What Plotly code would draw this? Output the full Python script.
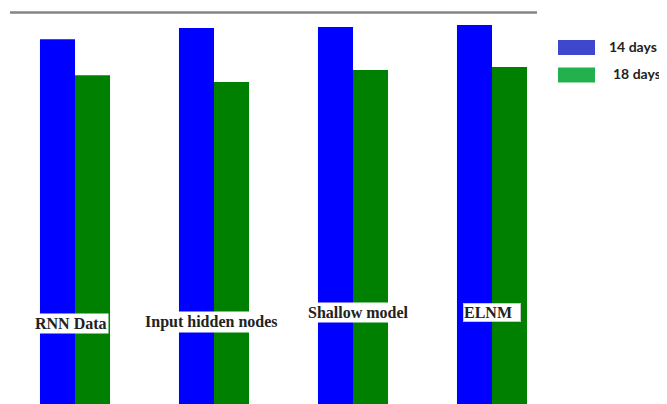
import plotly.graph_objects as go

categories = ["RNN Data", "Input hidden nodes", "Shallow model", "ELNM"]
series_14 = [90.3, 93.1, 93.3, 93.8]
series_18 = [81.4, 79.7, 82.7, 83.4]
legend_names = ["14 days", "18 days"]

# label placement (pixel tweaks relative to each group)
label_y = [20.0, 20.4, 22.6, 22.7]
label_dx = [-4, -3, 5, 0]

# page body has an 8px margin: figure placed at (8, 8) in the 667x404 window
OFF = 8
W, H = 667 - OFF, 404 - OFF


def px(sx):
    return (sx - OFF) / W


def py(sy):
    return 1 - (sy - OFF) / H


fig = go.Figure()
fig.add_trace(go.Bar(x=categories, y=series_14, name=legend_names[0],
                     marker=dict(color="#0000ff", line=dict(width=0))))
fig.add_trace(go.Bar(x=categories, y=series_18, name=legend_names[1],
                     marker=dict(color="#008000", line=dict(width=0))))

serif = "Liberation Serif, Times New Roman, serif"
for cat, ly, dx in zip(categories, label_y, label_dx):
    if cat == "ELNM":
        kw = dict(width=56, align="left", bordercolor="#c8c8c8", borderwidth=1, borderpad=0)
    else:
        kw = dict(borderpad=1)
    fig.add_annotation(x=cat, y=ly, xref="x", yref="y", xshift=dx,
                       text="<b>%s</b>" % cat,
                       showarrow=False, bgcolor="white",
                       font=dict(family=serif, size=16, color="#222222"), **kw)

# top gray rule
fig.add_shape(type="line", xref="paper", yref="paper", x0=px(10), x1=px(537),
              y0=py(12.5), y1=py(12.5), line=dict(color="#858585", width=2.5))

# custom legend
leg_colors = ["#3f48cc", "#22b14c"]
leg_y = [47.5, 75]
leg_tx = [607, 611]
for name, c, yy, tx in zip(legend_names, leg_colors, leg_y, leg_tx):
    fig.add_shape(type="rect", xref="paper", yref="paper",
                  x0=px(558), x1=px(595), y0=py(yy + 7.5), y1=py(yy - 7.5),
                  fillcolor=c, line=dict(width=0))
    fig.add_annotation(xref="paper", yref="paper", x=px(tx), y=py(yy - 1),
                       text="<b>%s</b>" % name, showarrow=False,
                       xanchor="left", yanchor="middle",
                       font=dict(family="Lato, Open Sans, sans-serif", size=14, color="#222222"))

fig.update_layout(
    width=W, height=H,
    margin=dict(l=0, r=0, t=0, b=0),
    paper_bgcolor="white", plot_bgcolor="white",
    barmode="group", bargap=0.496, bargroupgap=0,
    showlegend=False,
    xaxis=dict(range=[-(75 - OFF) / 139, (667 - 75) / 139], visible=False),
    yaxis=dict(range=[0, H / 4.04], visible=False),
)

fig.write_html("out.html")
